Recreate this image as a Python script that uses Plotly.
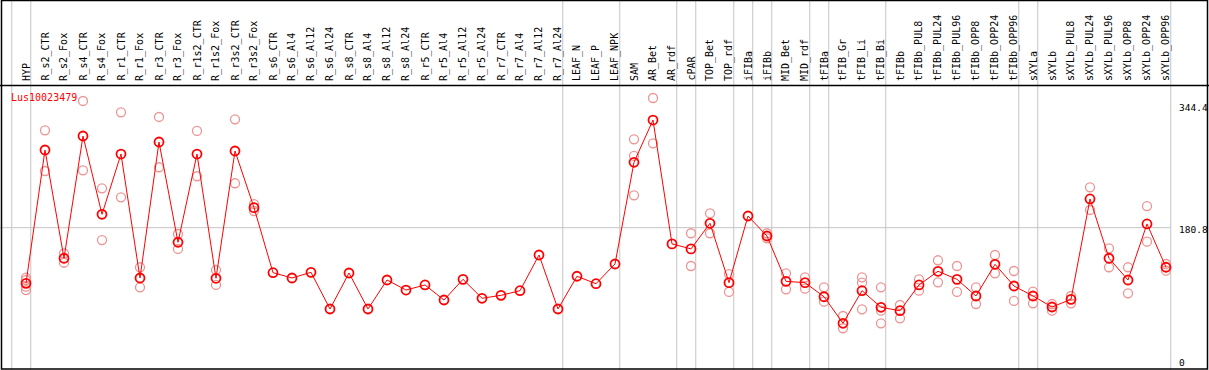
import plotly.graph_objects as go

categories = [
    "HYP", "R_s2_CTR", "R_s2_Fox", "R_s4_CTR", "R_s4_Fox", "R_r1_CTR", "R_r1_Fox",
    "R_r3_CTR", "R_r3_Fox", "R_r1s2_CTR", "R_r1s2_Fox", "R_r3s2_CTR", "R_r3s2_Fox",
    "R_s6_CTR", "R_s6_Al4", "R_s6_Al12", "R_s6_Al24", "R_s8_CTR", "R_s8_Al4",
    "R_s8_Al12", "R_s8_Al24", "R_r5_CTR", "R_r5_Al4", "R_r5_Al12", "R_r5_Al24",
    "R_r7_CTR", "R_r7_Al4", "R_r7_Al12", "R_r7_Al24", "LEAF_N", "LEAF_P", "LEAF_NPK",
    "SAM", "AR_Bet", "AR_rdf", "cPAR", "TOP_Bet", "TOP_rdf", "iFIBa", "iFIBb",
    "MID_Bet", "MID_rdf", "tFIBa", "tFIB_Gr", "tFIB_Li", "tFIB_Bi", "tFIBb",
    "tFIBb_PUL8", "tFIBb_PUL24", "tFIBb_PUL96", "tFIBb_OPP8", "tFIBb_OPP24", "tFIBb_OPP96",
    "sXYLa", "sXYLb", "sXYLb_PUL8", "sXYLb_PUL24", "sXYLb_PUL96", "sXYLb_OPP8",
    "sXYLb_OPP24", "sXYLb_OPP96",
]

means = [
    106.0, 285.2, 139.7, 304.0, 198.8, 279.8, 113.2, 296.0, 161.2, 279.8, 112.8, 283.9, 207.7,
    120.3, 113.2, 120.8, 71.5, 119.9, 71.5, 110.5, 97.0, 103.8, 83.6, 111.4, 85.9,
    89.9, 96.1, 144.1, 71.5, 115.5, 105.5, 132.0,
    268.7, 325.5, 159.0, 152.3, 186.7, 106.9, 196.5, 169.6,
    108.7, 106.9, 88.0, 52.3, 96.1, 73.8, 69.2,
    103.8, 122.2, 111.4, 89.0, 131.6, 102.4,
    89.0, 74.2, 84.5, 219.4, 139.7, 110.5, 185.8, 127.6,
]

N = None
rep1 = [
    113.6, 311.7, 146.4, 351.1, 233.7, 335.9, 127.6, 329.6, 172.3, 310.8, 123.9, 326.5, 212.6,
    N, N, N, N, N, N, N, N, N, N, N, N, N, N, N, N, N, N, N,
    299.6, 355.1, N, 173.3, 200.1, 118.5, N, 173.3,
    119.5, 114.1, 100.7, 62.1, 114.1, 100.7, 76.9,
    111.4, 137.0, 129.3, 100.7, 144.1, 122.6,
    94.8, 78.2, 89.0, 235.1, 153.1, 127.6, 209.9, 132.0,
]
rep2 = [
    97.0, 257.0, 133.7, 257.9, 164.2, 221.6, 100.7, 262.0, 152.2, 249.9, 103.8, 240.5, 203.2,
    N, N, N, N, N, N, N, N, N, N, N, N, N, N, N, N, N, N, N,
    224.3, 294.2, N, 129.3, 173.3, 94.4, N, 166.5,
    98.0, 98.8, 81.3, 45.6, 71.1, 52.3, 59.0,
    96.1, 107.4, 94.4, 78.2, 119.5, 82.3,
    79.2, 69.2, 79.2, 204.6, 127.6, 92.6, 162.0, 123.0,
]
rep3 = [
    110.5, N, N, N, N, N, N, N, N, N, N, N, N,
    N, N, N, N, N, N, N, N, N, N, N, N, N, N, N, N, N, N, N,
    277.2, N, N, N, N, N, N, N,
    N, N, N, N, 106.9, 69.2, N,
    N, N, N, N, N, N,
    N, N, N, N, N, N, N, N,
]
rep4 = [101.5] + [N] * 60

# indices of the last category of each group (separator drawn after it)
group_ends = [-1, 0, 28, 31, 34, 35, 37, 38, 39, 41, 42, 45, 52, 53, 60]

y_ticks = [0, 180.8, 344.4]
y_tick_labels = ["0", "180.8", "344.4"]
series_name = "Lus10023479"

W, H = 1209, 370
FONT = "DejaVu Sans Mono"

# pixel mapping: x = 26 + 19*i ; y = 362.2 - 0.744*v
x_range = [-26 / 19, (W - 26) / 19]
y_range = [(362.2 - H) / 0.744, 362.2 / 0.744]

idx = list(range(len(categories)))

fig = go.Figure()

rx, ry = [], []
for reps in (rep1, rep2, rep3, rep4):
    for i, v in zip(idx, reps):
        if v is not None:
            rx.append(i)
            ry.append(v)

fig.add_trace(go.Scatter(
    x=rx, y=ry, mode="markers", showlegend=False, hoverinfo="skip",
    marker=dict(symbol="circle-open", size=9, color="#ec9494", line=dict(width=1.3)),
))
fig.add_trace(go.Scatter(
    x=idx, y=means, mode="lines+markers", name=series_name, showlegend=False,
    line=dict(color="#ff0000", width=1),
    marker=dict(symbol="circle-open", size=9, color="#ff0000", line=dict(width=1.8)),
))

shapes = []
# group separators
for g in group_ends:
    shapes.append(dict(type="line", xref="x", yref="paper", x0=g + 0.25, x1=g + 0.25,
                       y0=0, y1=1, line=dict(color="#c4c4c4", width=1), layer="below"))
# middle horizontal gridline
shapes.append(dict(type="line", xref="paper", yref="y", x0=0,
                   x1=(group_ends[-1] + 0.25 - x_range[0]) / (x_range[1] - x_range[0]),
                   y0=y_ticks[1], y1=y_ticks[1], line=dict(color="#c4c4c4", width=1), layer="below"))
# header separator line
shapes.append(dict(type="line", xref="paper", yref="paper", x0=0, x1=1,
                   y0=1 - 85.5 / H, y1=1 - 85.5 / H, line=dict(color="black", width=1.5)))
# frame
shapes.append(dict(type="rect", xref="paper", yref="paper",
                   x0=1.5 / W, x1=1207.5 / W, y0=1 - 369 / H, y1=1 - 0.5 / H,
                   line=dict(color="black", width=1.5)))

annotations = []
for i, c in zip(idx, categories):
    annotations.append(dict(x=i, y=1 - 83 / H, xref="x", yref="paper", text=c,
                            textangle=-90, xanchor="center", yanchor="bottom",
                            showarrow=False, font=dict(family=FONT, size=10, color="black")))
for v, t in zip(y_ticks, y_tick_labels):
    annotations.append(dict(x=1177 / W, y=v, xref="paper", yref="y", text=t,
                            xanchor="left", yanchor="middle", yshift=-2 if v > 0 else 0,
                            showarrow=False, font=dict(family=FONT, size=9.5, color="black")))
annotations.append(dict(x=9 / W, y=1 - 97 / H, xref="paper", yref="paper", text=series_name,
                        xanchor="left", yanchor="middle", showarrow=False,
                        font=dict(family=FONT, size=10, color="#ff0000")))

fig.update_layout(
    width=W, height=H, margin=dict(l=0, r=0, t=0, b=0),
    paper_bgcolor="white", plot_bgcolor="white",
    xaxis=dict(range=x_range, visible=False, showgrid=False, zeroline=False),
    yaxis=dict(range=y_range, visible=False, showgrid=False, zeroline=False),
    shapes=shapes, annotations=annotations, showlegend=False,
)

fig.write_html("out.html", config={"displayModeBar": False},
               post_script="document.body.style.margin='0';document.body.style.overflow='hidden';")
